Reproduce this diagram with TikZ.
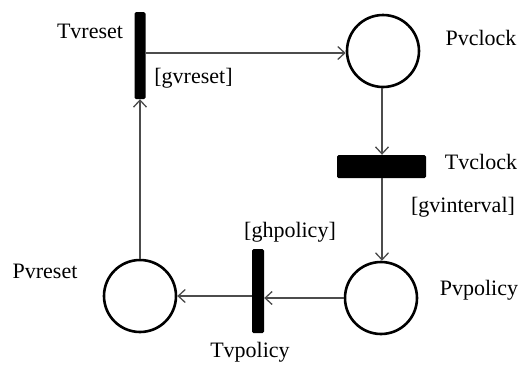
\documentclass[tikz,border=0pt]{standalone}
\usepackage{fontspec}
\setmainfont{Liberation Serif}
\usetikzlibrary{arrows.meta}
\begin{document}
\begin{tikzpicture}[x=1pt,y=-1pt,
  place/.style={draw=black,line width=2.6pt,circle,minimum size=72pt,inner sep=0pt},
  trans/.style={fill=black,draw=none,rounded corners=1.5pt,inner sep=0pt},
  arc/.style={draw=black!70,line width=1.4pt,
    -{Straight Barb[length=7pt,width=13pt,line width=1.3pt]}},
  lbl/.style={font=\fontsize{22}{26}\selectfont,anchor=base,inner sep=0pt}]
  \useasboundingbox (0,0) rectangle (525,365);

  % places
  \node[place] (Pvclock)  at (383,51)  {};
  \node[place] (Pvpolicy) at (381,298) {};
  \node[place] (Pvreset)  at (140,296) {};

  % transitions
  \node[trans,minimum width=11pt,minimum height=87pt] (Tvreset)  at (140,55.5) {};
  \node[trans,minimum width=89pt,minimum height=23pt] (Tvclock)  at (381.5,166.5) {};
  \node[trans,minimum width=12pt,minimum height=84pt] (Tvpolicy) at (258,291) {};

  % arcs
  \draw[arc] (Tvreset.east |- 0,53) -- (Pvclock.west |- 0,53);
  \draw[arc] (Pvclock.south -| 382,0) -- (Tvclock.north -| 382,0);
  \draw[arc] (Tvclock.south -| 382,0) -- (Pvpolicy.north -| 382,0);
  \draw[arc] (Pvpolicy.west) -- (Tvpolicy.east |- Pvpolicy.west);
  \draw[arc] (Tvpolicy.west |- Pvreset.east) -- (Pvreset.east);
  \draw[arc] (Pvreset.north) -- (Tvreset.south);

  % labels
  \node[lbl] (lTvreset)  at (90,38)    {Tvreset};
  \node[lbl] (lgvreset)  at (193.5,83) {[gvreset]};
  \node[lbl] (lPvclock)  at (481,45)   {Pvclock};
  \node[lbl] (lTvclock)  at (481,169)  {Tvclock};
  \node[lbl] (lgvint)    at (463,212)  {[gvinterval]};
  \node[lbl] (lghpolicy) at (290,237)  {[ghpolicy]};
  \node[lbl] (lPvpolicy) at (479,295)  {Pvpolicy};
  \node[lbl] (lPvreset)  at (45,278)   {Pvreset};
  \node[lbl] (lTvpolicy) at (250,357)  {Tvpolicy};
\end{tikzpicture}
\end{document}
